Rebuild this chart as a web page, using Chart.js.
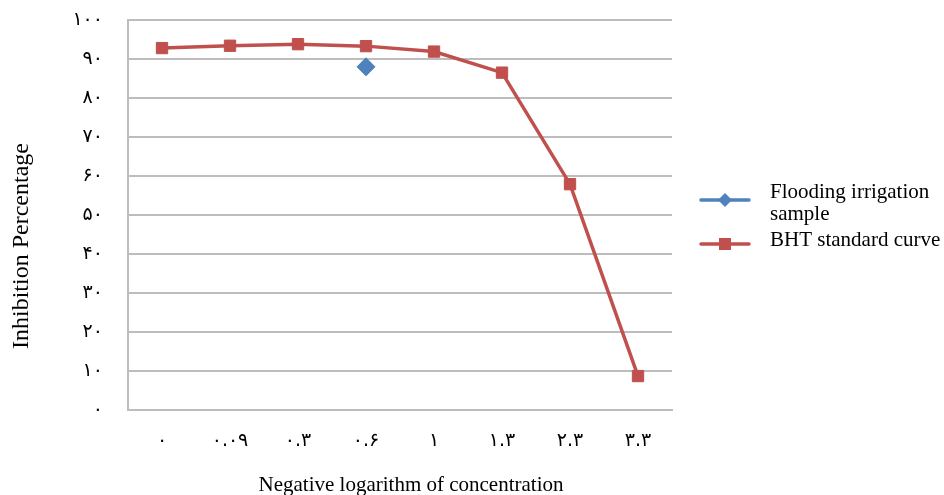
<!DOCTYPE html>
<html>
<head>
<meta charset="utf-8">
<script src="https://cdn.jsdelivr.net/npm/chart.js@4"></script>
<style>
  html, body { margin: 0; padding: 0; background: #fff; }
  #wrap { width: 944px; height: 495px; }
</style>
</head>
<body>
<div id="wrap"><canvas id="grafico" width="944" height="495"></canvas></div>
<script>
// categorias del eje x (logaritmo negativo de la concentracion)
const categorias = ['۰', '۰.۰۹', '۰.۳', '۰.۶', '۱', '۱.۳', '۲.۳', '۳.۳'];
const etiquetasY = ['۰', '۱۰', '۲۰', '۳۰', '۴۰', '۵۰', '۶۰', '۷۰', '۸۰', '۹۰', '۱۰۰'];

// curva estandar de BHT
const curvaBHT = [92.8, 93.4, 93.8, 93.3, 91.9, 86.5, 57.9, 8.7];
// muestra de riego por inundacion (solo un punto, en 0.6)
const muestraRiego = [null, null, null, 88.0, null, null, null, null];

const azul = '#4f81bd';
const rojo = '#c0504d';
const serif = '"Liberation Serif", "Times New Roman", serif';

// titulos de ejes y leyenda dibujados a mano
const extras = {
    id: 'extras',
    afterDraw(chart) {
        const ctx = chart.ctx;
        ctx.save();
        ctx.fillStyle = '#000';
        ctx.textAlign = 'center';
        ctx.textBaseline = 'middle';
        ctx.font = '21px ' + serif;
        ctx.fillText('Negative logarithm of concentration', 411, 485);

        ctx.font = '24px ' + serif;
        ctx.translate(22, 246);
        ctx.rotate(-Math.PI / 2);
        ctx.fillText('Inhibition Percentage', 0, 0);
        ctx.restore();

        // leyenda
        ctx.save();
        ctx.font = '21px ' + serif;
        ctx.textAlign = 'left';
        ctx.textBaseline = 'middle';
        const x0 = 701, x1 = 749, tx = 770, maxW = 175, alto = 22;
        let y = 192;
        chart.data.datasets.forEach(ds => {
            // partir el texto en lineas
            const palabras = ds.label.split(' ');
            const lineas = [];
            let actual = '';
            palabras.forEach(p => {
                const prueba = actual ? actual + ' ' + p : p;
                if (ctx.measureText(prueba).width > maxW && actual) {
                    lineas.push(actual);
                    actual = p;
                } else {
                    actual = prueba;
                }
            });
            lineas.push(actual);

            const yc = y + 4 + (lineas.length - 1) * 4;
            ctx.strokeStyle = ds.borderColor;
            ctx.lineWidth = 3.5;
            ctx.lineCap = 'round';
            ctx.beginPath();
            ctx.moveTo(x0, yc);
            ctx.lineTo(x1, yc);
            ctx.stroke();
            ctx.fillStyle = ds.pointBackgroundColor;
            const cx = (x0 + x1) / 2;
            if (ds.pointStyle === 'rectRot') {
                ctx.beginPath();
                ctx.moveTo(cx, yc - 7);
                ctx.lineTo(cx + 7, yc);
                ctx.lineTo(cx, yc + 7);
                ctx.lineTo(cx - 7, yc);
                ctx.closePath();
                ctx.fill();
            } else {
                ctx.fillRect(cx - 6, yc - 6, 12, 12);
            }

            ctx.fillStyle = '#000';
            lineas.forEach((l, i) => ctx.fillText(l, tx, y + i * alto));
            y += lineas.length * alto + 4;
        });
        ctx.restore();
    }
};

new Chart(document.getElementById('grafico'), {
    type: 'line',
    data: {
        labels: categorias,
        datasets: [{
            label: 'Flooding irrigation sample',
            data: muestraRiego,
            showLine: false,
            borderColor: azul,
            backgroundColor: azul,
            pointBackgroundColor: azul,
            pointBorderColor: azul,
            pointStyle: 'rectRot',
            pointRadius: 9,
            pointBorderWidth: 1
        }, {
            label: 'BHT standard curve',
            data: curvaBHT,
            borderColor: rojo,
            backgroundColor: rojo,
            pointBackgroundColor: rojo,
            pointBorderColor: rojo,
            borderWidth: 3.5,
            tension: 0,
            pointStyle: 'rect',
            pointRadius: 8,
            pointBorderWidth: 1
        }]
    },
    options: {
        responsive: false,
        animation: false,
        layout: { padding: { top: 20, right: 272, left: 0, bottom: 0 } },
        plugins: {
            legend: { display: false },
            tooltip: { enabled: false }
        },
        scales: {
            x: {
                offset: true,
                grid: { display: false, drawTicks: false },
                border: { display: true, color: '#bdbdbd', width: 2 },
                ticks: {
                    padding: 20,
                    color: '#000',
                    maxRotation: 0,
                    font: { family: '"DejaVu Sans"', size: 19 }
                },
                afterFit(scale) { scale.height = 85; }
            },
            y: {
                min: 0,
                max: 100,
                ticks: {
                    stepSize: 10,
                    padding: 25,
                    color: '#000',
                    font: { family: '"DejaVu Sans"', size: 19 },
                    callback: (v, i) => etiquetasY[i]
                },
                grid: { color: '#bdbdbd', lineWidth: 2, drawTicks: false },
                border: { display: true, color: '#bdbdbd', width: 2 },
                afterFit(scale) {
                    scale.width = 128;
                    scale.paddingTop = 0;
                    scale.paddingBottom = 0;
                }
            }
        }
    },
    plugins: [extras]
});
</script>
</body>
</html>
